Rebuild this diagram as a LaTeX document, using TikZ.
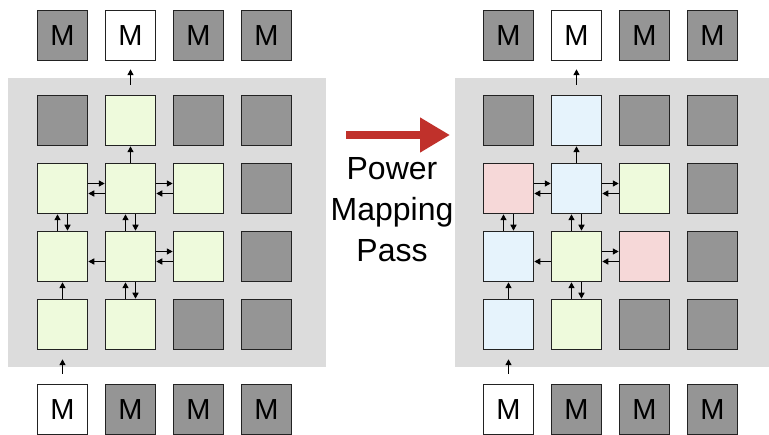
\documentclass[tikz,border=0pt]{standalone}
\usepackage{fontspec}
\setmainfont{Liberation Sans}
\usetikzlibrary{arrows.meta,positioning}
\definecolor{bgc}{HTML}{DCDCDC}
\definecolor{tilegray}{HTML}{959595}
\definecolor{tilegreen}{HTML}{EEFADC}
\definecolor{tileblue}{HTML}{E6F3FC}
\definecolor{tilepink}{HTML}{F6D8D8}
\definecolor{tileline}{HTML}{222222}
\definecolor{passred}{HTML}{C0312B}
\tikzset{
  tile/.style={draw=tileline,line width=1.5pt,minimum size=50pt,inner sep=0pt},
  tg/.style={tile,fill=tilegray},
  tn/.style={tile,fill=tilegreen},
  tb/.style={tile,fill=tileblue},
  tp/.style={tile,fill=tilepink},
  mem/.style={tile,font=\fontsize{29}{29}\selectfont},
  mw/.style={mem,fill=white},
  mg/.style={mem,fill=tilegray},
  lnk/.style={-{Triangle[length=6pt,width=6pt]},line width=1.4pt},
  lbl/.style={font=\fontsize{32}{32}\selectfont,inner sep=0pt,anchor=base},
}

\begin{document}
\begin{tikzpicture}[x=1pt,y=-1pt]
  \useasboundingbox (0,0) rectangle (769,435);
  \fill[bgc] (8,78) rectangle (326,367);
  \fill[bgc] (455,78) rectangle (769,367);
  % before the pass
  \foreach \s [count=\k from 0] in {tg,tn,tg,tg, tn,tn,tn,tg, tn,tn,tn,tg, tn,tn,tg,tg} {
    \pgfmathtruncatemacro\r{div(\k,4)+1}
    \pgfmathtruncatemacro\c{mod(\k,4)+1}
    \node[\s] (L\r\c) at ({62.5+68*(\c-1)},{120.5+68*(\r-1)}) {};
  }
  % after the pass
  \foreach \s [count=\k from 0] in {tg,tb,tg,tg, tp,tb,tn,tg, tb,tn,tp,tg, tb,tn,tg,tg} {
    \pgfmathtruncatemacro\r{div(\k,4)+1}
    \pgfmathtruncatemacro\c{mod(\k,4)+1}
    \node[\s] (R\r\c) at ({508.5+68*(\c-1)},{120.5+68*(\r-1)}) {};
  }
  \foreach \p/\dx in {L/0,R/446} {
    \foreach \s [count=\c] in {mg,mw,mg,mg}
      \node[\s] (\p T\c) at ({\dx+62.5+68*(\c-1)},35.5) {M};
    \foreach \s [count=\c] in {mw,mg,mg,mg}
      \node[\s] (\p B\c) at ({\dx+62.5+68*(\c-1)},409.5) {M};
  }
  \foreach \p in {L,R} {
    \draw[lnk] ([yshift=10pt]\p12.north) -- ([yshift=-8pt]\p T2.south);
    \draw[lnk] (\p22.north) -- (\p12.south);
    \draw[lnk] ([yshift=5pt]\p21.east) -- ([yshift=5pt]\p22.west);
    \draw[lnk] ([yshift=-5pt]\p22.west) -- ([yshift=-5pt]\p21.east);
    \draw[lnk] ([yshift=5pt]\p22.east) -- ([yshift=5pt]\p23.west);
    \draw[lnk] ([yshift=-5pt]\p23.west) -- ([yshift=-5pt]\p22.east);
    \draw[lnk] ([xshift=-5pt]\p31.north) -- ([xshift=-5pt]\p21.south);
    \draw[lnk] ([xshift=5pt]\p21.south) -- ([xshift=5pt]\p31.north);
    \draw[lnk] ([xshift=-5pt]\p32.north) -- ([xshift=-5pt]\p22.south);
    \draw[lnk] ([xshift=5pt]\p22.south) -- ([xshift=5pt]\p32.north);
    \draw[lnk] ([yshift=-5pt]\p32.west) -- ([yshift=-5pt]\p31.east);
    \draw[lnk] ([yshift=5pt]\p32.east) -- ([yshift=5pt]\p33.west);
    \draw[lnk] ([yshift=-5pt]\p33.west) -- ([yshift=-5pt]\p32.east);
    \draw[lnk] (\p41.north) -- (\p31.south);
    \draw[lnk] ([xshift=-5pt]\p42.north) -- ([xshift=-5pt]\p32.south);
    \draw[lnk] ([xshift=5pt]\p32.south) -- ([xshift=5pt]\p42.north);
    \draw[lnk] ([yshift=10pt]\p B1.north) -- ([yshift=-9pt]\p41.south);
  }
  % the pass
  \coordinate (pa) at (346,135);
  \coordinate (pb) at (450,135);
  \draw[passred,line width=8pt,-{Triangle[length=30pt,width=33pt]}] (pa) -- (pb);
  \node[lbl] (pw) at (392,180) {Power};
  \node[lbl] (mp) at (392,221) {Mapping};
  \node[lbl] (ps) at (392,262) {Pass};
\end{tikzpicture}
\end{document}
